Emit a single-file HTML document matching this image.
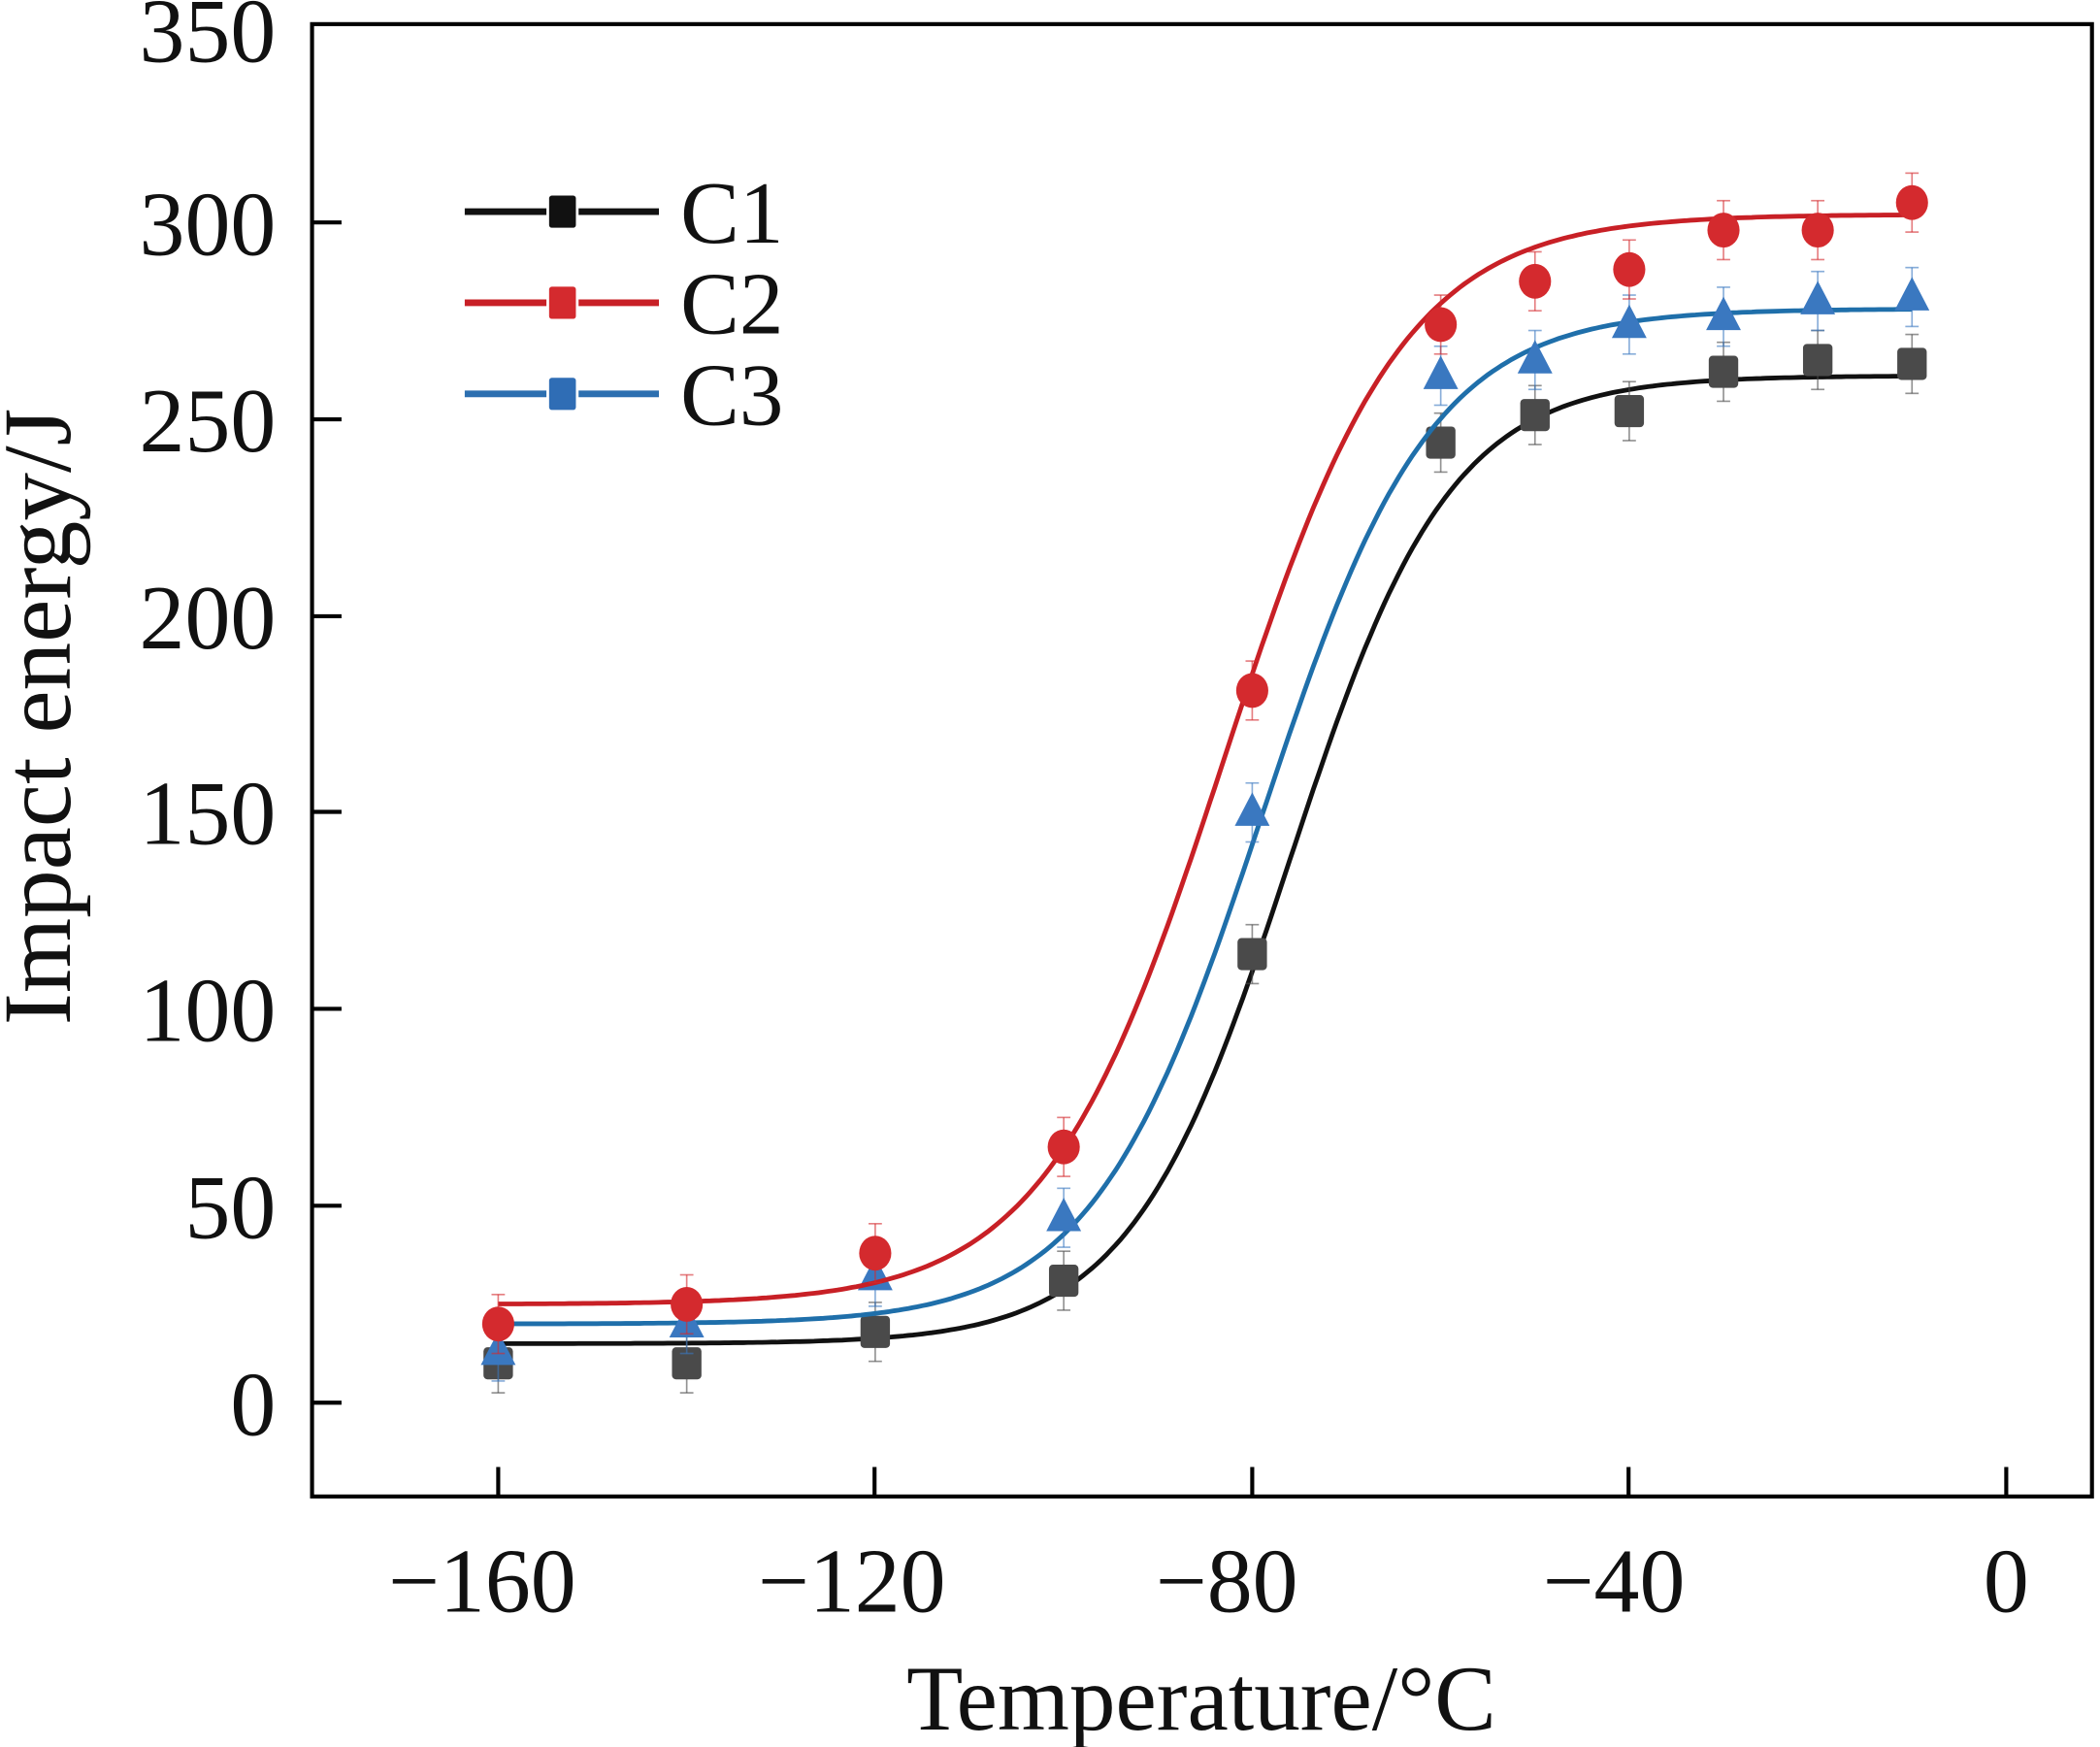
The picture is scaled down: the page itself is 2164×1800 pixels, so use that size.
<!DOCTYPE html>
<html><head><meta charset="utf-8">
<style>html,body{margin:0;padding:0;background:#fff}svg{display:block}</style>
</head><body>
<svg id="s" width="2164" height="1800" viewBox="0 0 1568 1304" preserveAspectRatio="none" xmlns="http://www.w3.org/2000/svg" font-family="'Liberation Serif',serif">
<rect x="233" y="18" width="1329" height="1099" fill="none" stroke="#000" stroke-width="3"/>
<g stroke="#000" stroke-width="3">
<line x1="233" y1="1047" x2="255" y2="1047"/><line x1="233" y1="900" x2="255" y2="900"/>
<line x1="233" y1="753" x2="255" y2="753"/><line x1="233" y1="606" x2="255" y2="606"/>
<line x1="233" y1="460" x2="255" y2="460"/><line x1="233" y1="313" x2="255" y2="313"/>
<line x1="233" y1="166" x2="255" y2="166"/>
<line x1="372" y1="1117" x2="372" y2="1095"/><line x1="653" y1="1117" x2="653" y2="1095"/>
<line x1="935" y1="1117" x2="935" y2="1095"/><line x1="1216" y1="1117" x2="1216" y2="1095"/>
<line x1="1498" y1="1117" x2="1498" y2="1095"/>
</g>
<g font-size="68" text-anchor="end" fill="#111">
<text x="206" y="1071">0</text><text x="206" y="924">50</text><text x="206" y="777">100</text>
<text x="206" y="630">150</text><text x="206" y="484">200</text><text x="206" y="337">250</text>
<text x="206" y="190">300</text><text x="206" y="46">350</text>
</g>
<g font-size="68" text-anchor="middle" fill="#111">
<text x="360" y="1203">−160</text><text x="636" y="1203">−120</text><text x="916" y="1203">−80</text>
<text x="1205" y="1203">−40</text><text x="1498" y="1203">0</text>
</g>
<text x="897" y="1291" font-size="69" text-anchor="middle" fill="#111">Temperature/°C</text>
<text transform="translate(52,535) rotate(-90)" font-size="72" text-anchor="middle" fill="#111">Impact energy/J</text>
<g id="leg"></g>
<g id="plot"></g>
</svg>
<script>
var X=function(t){return 372+(t+160)*7.0375},Y=function(v){return 1047-v*2.937};
var ns="http://www.w3.org/2000/svg",plot=document.getElementById("plot"),leg=document.getElementById("leg");
function el(p,n,a){var e=document.createElementNS(ns,n);for(var k in a)e.setAttribute(k,a[k]);p.appendChild(e);return e;}
var T=[-160,-140,-120,-100,-80,-60,-50,-40,-30,-20,-10];
var S=[
 {c:"#111",m:"#4a4a4a",lo:15,hi:261,x0:-76,w:8.5,d:[10,10,18,31,114,244,251,252,262,265,264],mk:"sq"},
 {c:"#1f6faa",m:"#3a78c0",lo:20,hi:278,x0:-79,w:9,d:[13,20,32,47,150,261,265,274,276,280,281],mk:"tri"},
 {c:"#c82026",m:"#d42a2e",lo:25,hi:302,x0:-83,w:9.5,d:[20,25,38,65,181,274,285,288,298,298,305],mk:"ci"}
];
S.forEach(function(s){
 var p="";for(var t=-160;t<=-10;t+=0.5){var v=s.hi+(s.lo-s.hi)/(1+Math.exp((t-s.x0)/s.w));p+=(p?"L":"M")+X(t).toFixed(1)+","+Y(v).toFixed(1);}
 el(plot,"path",{d:p,fill:"none",stroke:s.c,"stroke-width":3.5});
 T.forEach(function(t,i){var x=X(t),y=Y(s.d[i]);
  el(plot,"line",{x1:x,y1:y-22,x2:x,y2:y+22,stroke:s.m,"stroke-width":1.2,opacity:0.6});
  el(plot,"line",{x1:x-5,y1:y-22,x2:x+5,y2:y-22,stroke:s.m,"stroke-width":1.2,opacity:0.6});
  el(plot,"line",{x1:x-5,y1:y+22,x2:x+5,y2:y+22,stroke:s.m,"stroke-width":1.2,opacity:0.6});
  if(s.mk=="sq")el(plot,"rect",{x:x-11,y:y-12,width:22,height:24,rx:3,fill:s.m});
  else if(s.mk=="ci")el(plot,"ellipse",{cx:x,cy:y,rx:12,ry:13,fill:s.m});
  else el(plot,"polygon",{points:(x)+","+(y-15)+" "+(x-13)+","+(y+10)+" "+(x+13)+","+(y+10),fill:s.m});
 });
});
[["#111","#111",158,"C1"],["#c82026","#d42a2e",226,"C2"],["#2c6fb0","#2f6db5",294,"C3"]].forEach(function(l){
 el(leg,"line",{x1:347,y1:l[2],x2:492,y2:l[2],stroke:l[0],"stroke-width":5});
 el(leg,"rect",{x:409,y:l[2]-13,width:22,height:26,rx:3,fill:l[1],stroke:"#fff","stroke-width":2});
 var t=el(leg,"text",{x:508,y:l[2]+23,"font-size":66,fill:"#111"});t.textContent=l[3];
});
</script>
</body></html>
